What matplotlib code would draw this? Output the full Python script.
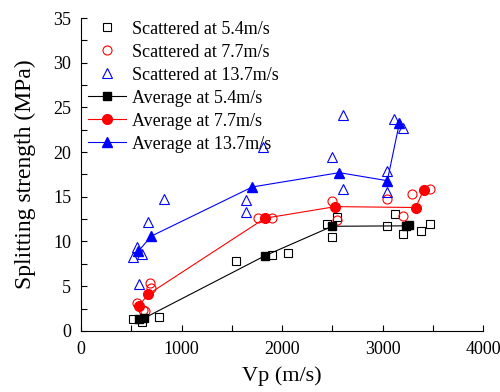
import matplotlib.pyplot as plt
from matplotlib.ticker import MultipleLocator

plt.rcParams['font.family'] = ['Liberation Serif', 'DejaVu Serif']
plt.rcParams['mathtext.fontset'] = 'stix'

# scattered test points
s54_x = [521, 604, 776, 1542, 1897, 2056, 2451, 2501, 2551, 3048, 3124, 3207, 3380, 3473]
s54_y = [1.3, 0.97, 1.5, 7.86, 8.5, 8.7, 12.0, 10.55, 12.7, 11.74, 13.1, 10.8, 11.2, 11.9]

s77_x = [554, 620, 637, 687, 693, 1758, 1897, 2501, 2551, 3048, 3207, 3290, 3473]
s77_y = [3.1, 2.35, 2.27, 5.4, 4.8, 12.6, 12.6, 14.5, 12.4, 14.76, 12.9, 15.3, 15.9]

s137_x = [521, 560, 604, 580, 670, 829, 1642, 1642, 1808, 2501, 2604, 2604, 3048, 3048, 3118, 3201]
s137_y = [8.3, 9.4, 8.6, 5.2, 12.15, 14.8, 14.6, 13.3, 20.6, 19.4, 24.2, 15.9, 17.9, 15.5, 23.7, 22.7]

# averages
a54_x = [575, 625, 1830, 2500, 3235, 3265]
a54_y = [1.3, 1.4, 8.4, 11.7, 11.75, 11.8]

a77_x = [575, 670, 1830, 2530, 3330, 3410]
a77_y = [2.8, 4.1, 12.6, 13.9, 13.8, 15.8]

a137_x = [570, 700, 1705, 2570, 3048, 3167]
a137_y = [8.9, 10.6, 16.1, 17.7, 16.8, 23.2]

fig = plt.figure(figsize=(5, 3.92), dpi=100)
ax = fig.add_axes([0.162, 0.156, 0.804, 0.798])

ax.plot(s54_x, s54_y, ls='none', marker='s', ms=6, mfc='none', mec='black', mew=0.8,
        label='Scattered at 5.4m/s')
ax.plot(s77_x, s77_y, ls='none', marker='o', ms=6.5, mfc='none', mec='red', mew=0.8,
        label='Scattered at 7.7m/s')
ax.plot(s137_x, s137_y, ls='none', marker='^', ms=7, mfc='none', mec='blue', mew=0.8,
        label='Scattered at 13.7m/s')
ax.plot(a54_x, a54_y, color='black', lw=0.8, marker='s', ms=6,
        label='Average at 5.4m/s')
ax.plot(a77_x, a77_y, color='red', lw=0.8, marker='o', ms=7,
        label='Average at 7.7m/s')
ax.plot(a137_x, a137_y, color='blue', lw=0.8, marker='^', ms=7.5,
        label='Average at 13.7m/s')

ax.set_xlim(0, 4000)
ax.set_ylim(0, 35)
ax.xaxis.set_major_locator(MultipleLocator(1000))
ax.xaxis.set_minor_locator(MultipleLocator(500))
ax.yaxis.set_major_locator(MultipleLocator(5))
ax.yaxis.set_minor_locator(MultipleLocator(2.5))
ax.tick_params(which='both', direction='in', length=4, width=0.8, labelsize=13)
ax.tick_params(axis='x', which='major', pad=7)
ax.tick_params(axis='y', which='major', pad=7)
ax.spines['top'].set_visible(False)
ax.spines['right'].set_visible(False)

ax.set_xlabel('Vp (m/s)', fontsize=16, labelpad=6)
ax.set_ylabel('Splitting strength (MPa)', fontsize=17, labelpad=12)

ax.legend(loc='upper left', frameon=False, fontsize=13, handlelength=2.1,
          handletextpad=0.35, labelspacing=0.33, borderaxespad=0.1,
          bbox_to_anchor=(-0.005, 1.02))

fig.savefig('out.png', dpi=100)
